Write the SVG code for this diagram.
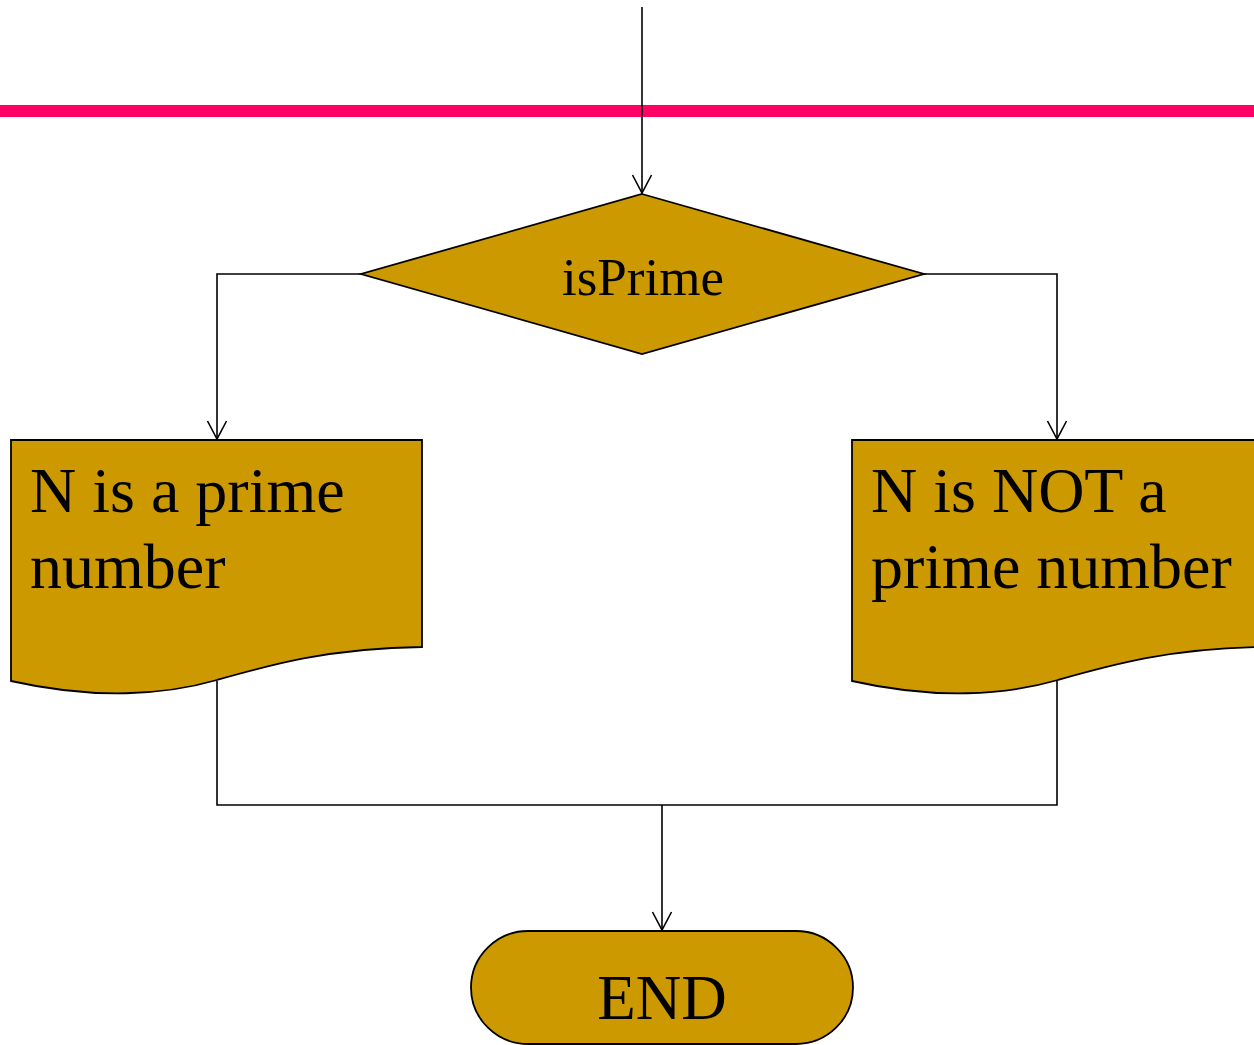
<svg xmlns="http://www.w3.org/2000/svg" width="1254" height="1045" viewBox="0 0 1254 1045">
  <style>
    .shape { fill: #CC9900; stroke: #000000; stroke-width: 1.8; }
    .wire { fill: none; stroke: #000000; stroke-width: 1.6; }
    .label { font-family: "Liberation Serif", "Times New Roman", serif; fill: #000000; }
  </style>
  <defs>
    <marker id="arrow" markerUnits="userSpaceOnUse" markerWidth="24" markerHeight="24" viewBox="-20 -12 24 24" refX="0" refY="0" orient="auto">
      <path d="M-18,-9.5 L0,0 L-18,9.5" fill="none" stroke="#000000" stroke-width="1.6"/>
    </marker>
  </defs>
  <rect x="0" y="0" width="1254" height="1045" fill="#FFFFFF"/>

  <!-- separator bar -->
  <rect x="0" y="105" width="1254" height="12" fill="#FF0066"/>

  <g id="connectors">
    <path class="wire" d="M642,7 V193" marker-end="url(#arrow)"/>
    <path class="wire" d="M361,274 H217 V439" marker-end="url(#arrow)"/>
    <path class="wire" d="M924,274 H1057 V439" marker-end="url(#arrow)"/>
    <path class="wire" d="M217,681 V805 H1057 V681"/>
    <path class="wire" d="M662,805 V930" marker-end="url(#arrow)"/>
  </g>

  <g id="decision">
    <polygon class="shape" points="642,194 924,274 642,354 361,274"/>
    <text class="label" x="643" y="295" font-size="53" text-anchor="middle">isPrime</text>
  </g>

  <g id="prime">
    <path class="shape" d="M11,440 H422 V647 C330,648 270,665 217,680 C165,695 95,700 11,681 Z"/>
    <text class="label" x="30" y="512" font-size="64">N is a prime</text>
    <text class="label" x="30" y="588" font-size="64">number</text>
  </g>

  <g id="not-prime">
    <path class="shape" d="M852,440 H1263 V647 C1171,648 1111,665 1058,680 C1006,695 936,700 852,681 Z"/>
    <text class="label" x="871" y="512" font-size="64">N is NOT a</text>
    <text class="label" x="871" y="588" font-size="64">prime number</text>
  </g>

  <g id="end">
    <rect class="shape" x="471" y="931" width="382" height="113" rx="57" ry="56.5"/>
    <text class="label" x="662" y="1019" font-size="63" text-anchor="middle">END</text>
  </g>
</svg>
